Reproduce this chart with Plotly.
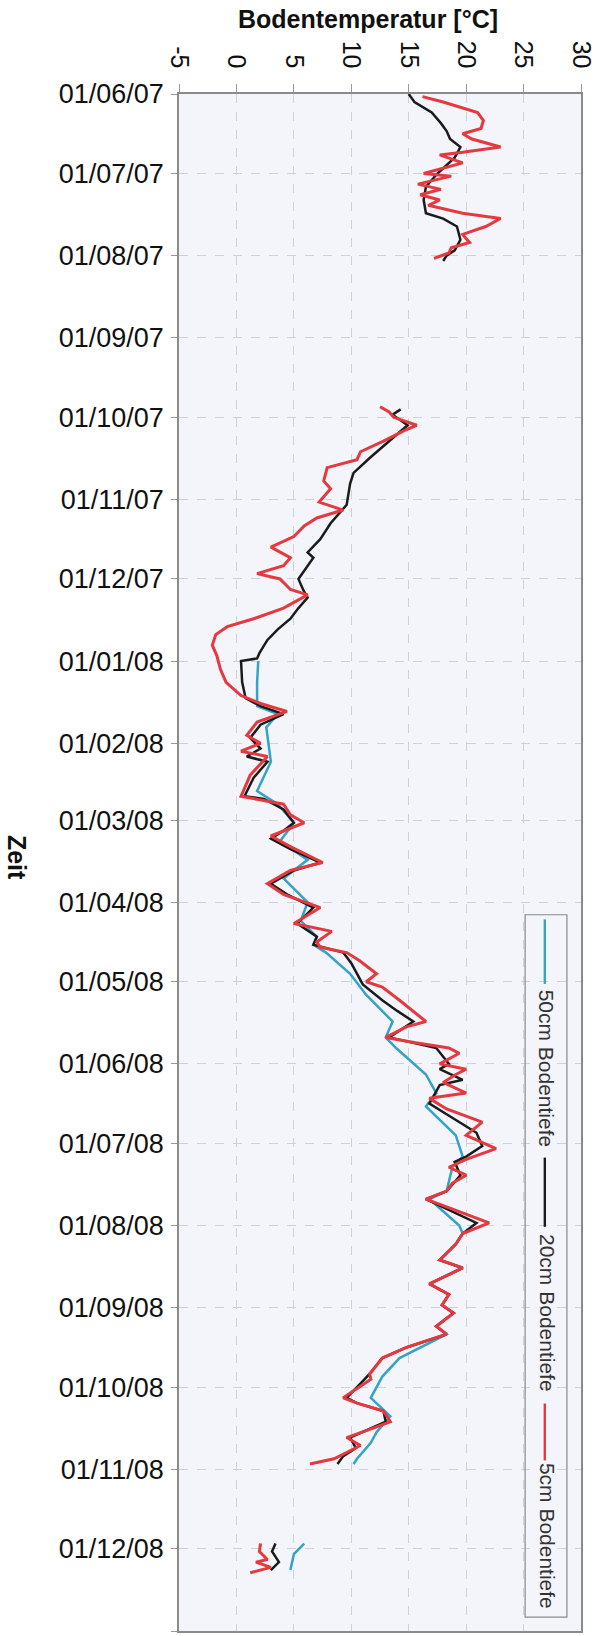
import plotly.graph_objects as go

# ---- data ----
dates_50 = ["2008-01-01","2008-01-09","2008-01-18","2008-01-21","2008-01-26","2008-02-01","2008-02-08",
            "2008-02-19","2008-02-24","2008-03-02","2008-03-09","2008-03-16","2008-03-23","2008-04-01",
            "2008-04-08","2008-04-14","2008-04-17","2008-04-20","2008-04-28","2008-05-06","2008-05-16",
            "2008-05-22","2008-05-26","2008-06-05","2008-06-12","2008-06-17","2008-06-28","2008-07-06",
            "2008-07-10","2008-07-19","2008-07-22","2008-08-01","2008-08-04","2008-08-08","2008-08-14",
            "2008-08-17","2008-08-23","2008-08-27","2008-08-31","2008-09-03","2008-09-08","2008-09-11",
            "2008-09-20","2008-09-27","2008-10-05","2008-10-12","2008-10-18","2008-10-22","2008-10-28",
            "2008-10-30","2008-11-15","2008-11-29","2008-12-03","2008-12-09"]
temp_50 = [1.9,1.8,1.8,3.6,2.6,2.8,3.0,
           1.8,3.6,5.0,3.8,6.2,4.1,6.2,
           5.6,7.0,6.7,7.8,9.9,11.3,13.6,
           13.0,13.9,16.5,17.4,16.5,19.1,19.7,
           18.8,18.3,16.8,19.4,19.7,19.1,17.7,
           19.7,16.8,18.5,17.9,18.9,17.4,18.3,
           14.2,12.7,11.7,13.4,12.2,11.7,10.5,
           10.2,None,5.9,5.0,4.7]

dates_20 = ["2007-06-01","2007-06-04","2007-06-08","2007-06-12","2007-06-15","2007-06-18","2007-06-21",
            "2007-06-25","2007-07-01","2007-07-06","2007-07-11","2007-07-16","2007-07-18","2007-07-21",
            "2007-07-26","2007-07-30","2007-08-01","2007-08-03","2007-09-01",
            "2007-09-28","2007-09-30","2007-10-04","2007-10-08","2007-10-12","2007-10-16","2007-10-22",
            "2007-10-26","2007-11-03","2007-11-10","2007-11-16","2007-11-21","2007-11-23","2007-12-01",
            "2007-12-05","2007-12-08","2007-12-12","2007-12-16","2007-12-20","2007-12-24","2007-12-29",
            "2007-12-31","2008-01-01","2008-01-09","2008-01-15","2008-01-18","2008-01-21","2008-01-25",
            "2008-01-30","2008-02-03","2008-02-06","2008-02-08","2008-02-14","2008-02-21","2008-02-22",
            "2008-02-26","2008-03-02","2008-03-05","2008-03-08","2008-03-12","2008-03-17","2008-03-20",
            "2008-03-25","2008-03-29","2008-04-03","2008-04-09","2008-04-14","2008-04-17","2008-04-20",
            "2008-04-24","2008-05-02","2008-05-08","2008-05-12","2008-05-16","2008-05-22","2008-05-26",
            "2008-06-01","2008-06-03","2008-06-07","2008-06-09","2008-06-16","2008-06-22","2008-06-27",
            "2008-07-02","2008-07-06","2008-07-08","2008-07-13","2008-07-19","2008-07-22","2008-07-31",
            "2008-08-04","2008-08-08","2008-08-14","2008-08-17","2008-08-23","2008-08-27","2008-08-31",
            "2008-09-03","2008-09-08","2008-09-11","2008-09-16","2008-09-20","2008-09-26","2008-10-05",
            "2008-10-07","2008-10-10","2008-10-14","2008-10-20","2008-10-24","2008-10-27","2008-10-30",
            "2008-11-15","2008-11-29","2008-12-02","2008-12-06","2008-12-09"]
temp_20 = [15.0,15.5,17.0,17.8,18.3,18.6,19.5,
           19.0,17.5,16.5,16.3,16.5,18.0,19.2,
           19.5,19.0,18.3,18.0,None,
           14.3,13.6,14.9,13.8,12.8,11.7,10.2,
           9.9,9.6,8.2,7.3,6.2,6.7,5.4,
           5.8,6.2,5.4,4.7,3.6,2.7,2.0,
           1.8,0.4,0.5,0.8,2.1,4.1,2.1,
           1.2,2.1,0.9,2.7,1.5,0.7,2.4,
           4.1,5.0,4.1,3.0,4.7,7.3,5.0,
           3.0,4.4,6.7,5.3,7.0,6.7,9.3,
           10.0,11.0,12.7,14.0,15.4,13.3,17.4,
           18.5,17.7,19.7,17.7,16.8,19.1,20.9,
           21.4,20.0,19.0,19.5,18.3,16.5,20.9,
           19.7,19.1,17.7,19.7,16.8,18.5,17.9,
           18.9,17.4,18.3,14.8,12.7,11.6,9.6,
           10.5,12.8,13.0,9.9,10.4,9.3,8.8,
           None,3.4,3.1,3.7,3.0]

dates_5 = ["2007-06-02","2007-06-04","2007-06-08","2007-06-11","2007-06-14","2007-06-16","2007-06-18",
           "2007-06-21","2007-06-23","2007-06-24","2007-06-27","2007-07-01","2007-07-02","2007-07-05",
           "2007-07-07","2007-07-09","2007-07-11","2007-07-13","2007-07-16","2007-07-18","2007-07-21",
           "2007-07-24","2007-07-27","2007-07-29","2007-07-31","2007-08-02","2007-09-01",
           "2007-09-27","2007-09-29","2007-10-01","2007-10-04","2007-10-06","2007-10-10","2007-10-14",
           "2007-10-17","2007-10-20","2007-10-25","2007-10-28","2007-11-02","2007-11-05","2007-11-08",
           "2007-11-11","2007-11-15","2007-11-19","2007-11-23","2007-11-26","2007-11-29","2007-12-01",
           "2007-12-05","2007-12-07","2007-12-12","2007-12-16","2007-12-19","2007-12-22","2007-12-26",
           "2007-12-30","2008-01-04","2008-01-09","2008-01-14","2008-01-17","2008-01-20","2008-01-24",
           "2008-01-29","2008-02-01","2008-02-04","2008-02-06","2008-02-13","2008-02-21","2008-02-24",
           "2008-02-28","2008-03-02","2008-03-07","2008-03-11","2008-03-17","2008-03-20","2008-03-25",
           "2008-03-29","2008-04-03","2008-04-09","2008-04-12","2008-04-16","2008-04-18","2008-04-20",
           "2008-04-23","2008-04-28","2008-05-01","2008-05-03","2008-05-08","2008-05-13","2008-05-16",
           "2008-05-18","2008-05-22","2008-05-24","2008-05-26","2008-05-28","2008-06-01","2008-06-03",
           "2008-06-05","2008-06-08","2008-06-12","2008-06-14","2008-06-18","2008-06-23","2008-06-28",
           "2008-07-03","2008-07-07","2008-07-10","2008-07-13","2008-07-16","2008-07-19","2008-07-22",
           "2008-07-31","2008-08-04","2008-08-08","2008-08-14","2008-08-17","2008-08-23","2008-08-27",
           "2008-08-31","2008-09-03","2008-09-08","2008-09-11","2008-09-16","2008-09-20","2008-09-26",
           "2008-09-28","2008-10-05","2008-10-07","2008-10-10","2008-10-14","2008-10-16","2008-10-20",
           "2008-10-23","2008-10-28","2008-10-30","2008-11-15","2008-11-29","2008-12-02","2008-12-05",
           "2008-12-06","2008-12-08","2008-12-10"]
temp_5 = [16.2,18.0,21.0,21.5,21.3,19.7,20.5,
          23.0,19.7,17.7,19.7,16.3,18.7,15.8,
          17.8,16.0,17.7,16.7,19.7,23.0,21.7,
          19.7,20.3,18.7,18.5,17.2,None,
          12.5,13.3,13.7,15.7,14.6,12.8,10.8,
          10.5,7.9,7.6,8.2,7.2,9.3,7.0,
          5.9,5.0,3.0,4.7,4.1,1.8,3.8,
          4.7,6.2,4.1,1.5,-0.8,-1.8,-2.1,
          -1.7,-1.4,-0.9,0.4,2.1,4.4,1.8,
          0.9,2.1,0.4,2.7,1.2,0.4,4.1,
          4.7,5.9,3.0,4.7,7.5,4.7,2.7,
          4.1,7.3,5.0,8.3,7.0,7.3,9.6,
          10.7,12.2,11.3,12.7,14.2,15.6,16.5,
          14.8,13.0,15.6,18.5,19.4,17.7,20.0,
          19.1,18.0,20.0,16.8,18.3,21.4,20.0,
          22.6,20.0,18.5,20.0,18.8,18.3,16.5,
          22.0,19.7,19.1,17.7,19.7,16.8,18.5,
          17.9,18.9,17.4,18.3,14.8,12.7,11.6,
          11.7,9.3,10.5,12.8,13.4,12.2,9.6,
          10.8,8.5,6.4,None,2.1,2.0,2.7,
          1.7,3.0,1.2]

series_names = ["50cm Bodentiefe", "20cm Bodentiefe", "5cm Bodentiefe"]
series_colors = ["#35a3c8", "#1b1b1b", "#e5383f"]
series_widths = [2.5, 2.5, 3.0]

x_ticks = [-5, 0, 5, 10, 15, 20, 25, 30]

FONT = "Arial, Liberation Sans, sans-serif"

fig = go.Figure()
for d, t, name, col, w in zip([dates_50, dates_20, dates_5], [temp_50, temp_20, temp_5],
                              series_names, series_colors, series_widths):
    fig.add_trace(go.Scatter(x=t, y=d, mode="lines", name=name,
                             line=dict(color=col, width=w), connectgaps=False))

fig.update_layout(
    width=601, height=1636,
    margin=dict(l=179, r=20, t=94, b=3),
    paper_bgcolor="white",
    plot_bgcolor="#f3f5fa",
    showlegend=False,
    font=dict(family=FONT, color="#111"),
)

fig.update_xaxes(
    side="top", range=[-5, 30], tickvals=x_ticks, ticktext=[str(v) for v in x_ticks],
    tickangle=90, tickfont=dict(size=25, family=FONT, color="#111"),
    ticks="outside", ticklen=8, tickcolor="#999", ticklabelstandoff=7,
    showgrid=True, gridcolor="#cdd2da", griddash="dash", gridwidth=1,
    zeroline=False, showline=True, linecolor="#8a8a8a", linewidth=1.5, mirror=True,
)
fig.update_yaxes(
    type="date", range=["2009-01-01", "2007-06-01"],
    tick0="2007-06-01", dtick="M1", tickformat="%d/%m/%y",
    tickfont=dict(size=27, family=FONT, color="#111"),
    ticks="outside", ticklen=6, tickcolor="#999", ticklabelstandoff=2,
    showgrid=True, gridcolor="#cdd2da", griddash="dash", gridwidth=1,
    zeroline=False, showline=True, linecolor="#8a8a8a", linewidth=1.5, mirror=True,
)

# x-axis title
fig.add_annotation(text="<b>Bodentemperatur [°C]</b>", xref="paper", yref="paper",
                   x=0.47, y=1.049, xanchor="center", yanchor="middle", showarrow=False,
                   font=dict(size=25, family=FONT, color="#111"))

# y-axis title "Zeit" (reads top to bottom)
fig.add_annotation(text="<b>Zeit</b>", textangle=90, xref="paper", yref="paper",
                   x=-0.403, y=0.503, xanchor="center", yanchor="middle", showarrow=False,
                   font=dict(size=25, family=FONT, color="#111"))

# rotated legend (built from shapes + annotations)
fig.add_shape(type="rect", xref="paper", yref="paper", x0=0.861, x1=0.965, y0=0.009, y1=0.466,
              line=dict(color="#8a8a8a", width=1.2), fillcolor="rgba(255,255,255,0)")
leg_lines = [(0.463, 0.421), (0.308, 0.263), (0.148, 0.111)]
leg_text_y = [0.366, 0.207, 0.062]
for (ya, yb), ty, name, col in zip(leg_lines, leg_text_y, series_names, series_colors):
    fig.add_shape(type="line", xref="paper", yref="paper", x0=0.910, x1=0.910, y0=ya, y1=yb,
                  line=dict(color=col, width=2.4))
    fig.add_annotation(text=name, textangle=90, xref="paper", yref="paper",
                       x=0.915, y=ty, xanchor="center", yanchor="middle", showarrow=False,
                       font=dict(size=21, family=FONT, color="#333"))

fig.write_html(
    "out.html",
    config={"displayModeBar": False},
    post_script="document.body.style.margin='0';document.body.style.overflow='hidden';"
                "document.documentElement.style.overflow='hidden';",
)
